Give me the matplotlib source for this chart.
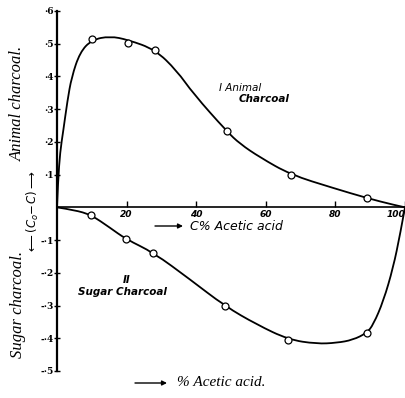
import matplotlib
matplotlib.use("Agg")
import matplotlib.pyplot as plt
from matplotlib.path import Path
from matplotlib.patches import PathPatch

# measured points (open circles)
animal_x = [10, 20.4, 28.2, 48.8, 67.1, 89.2]
animal_y = [0.515, 0.502, 0.482, 0.232, 0.100, 0.028]
sugar_x = [9.8, 19.8, 27.7, 48.3, 66.5, 89.0]
sugar_y = [-0.023, -0.097, -0.138, -0.302, -0.404, -0.384]

# hand-drawn curves, points
animal_curve_x = [0, 0.3, 0.9, 1.8, 3.0, 4.2, 6.6, 10, 15.2, 20.4, 28.2, 34.4,
                  39.2, 48.8, 52.6, 58.3, 67.1, 79.4, 89.2, 96.6, 100]
animal_curve_y = [0, 0.08, 0.17, 0.234, 0.326, 0.398, 0.474, 0.512, 0.523, 0.512,
                  0.482, 0.418, 0.347, 0.232, 0.194, 0.153, 0.100, 0.059, 0.028,
                  0.008, 0]
sugar_curve_x = [0, 5, 9.8, 15.2, 19.8, 27.7, 38.2, 48.3, 57.4, 66.5, 74.6, 80.4,
                 85, 89, 90.9, 93.8, 96.6, 98.6, 100]
sugar_curve_y = [0, -0.008, -0.023, -0.062, -0.097, -0.138, -0.22, -0.302, -0.358,
                 -0.404, -0.417, -0.414, -0.405, -0.384, -0.358, -0.286, -0.184,
                 -0.082, 0]

y_ticks = [0.6, 0.5, 0.4, 0.3, 0.2, 0.1, -0.1, -0.2, -0.3, -0.4, -0.5]
y_tick_labels = ['·6', '·5', '·4', '·3', '·2', '·1', '-·1', '-·2', '-·3', '-·4', '-·5']
x_ticks = [20, 40, 60, 80, 100]
x_tick_labels = ['20', '40', '60', '80', '100']


def smooth_path(xs, ys):
    verts = [(xs[0], ys[0])]
    codes = [Path.MOVETO]
    n = len(xs)
    for i in range(1, n - 1):
        mx = (xs[i] + xs[i + 1]) / 2
        my = (ys[i] + ys[i + 1]) / 2
        if i == n - 2:
            mx, my = xs[i + 1], ys[i + 1]
        verts += [(xs[i], ys[i]), (mx, my)]
        codes += [Path.CURVE3, Path.CURVE3]
    return Path(verts, codes)


def fx(px):
    return px / 406


def fy(py):
    return 1 - py / 398


fig = plt.figure(figsize=(4.06, 3.98), dpi=100)
ax = fig.add_axes([57 / 406, 27 / 398, 348 / 406, 360 / 398])
ax.set_xlim(0, 100)
ax.set_ylim(-0.5, 0.6)

for xs, ys in [(animal_curve_x, animal_curve_y), (sugar_curve_x, sugar_curve_y)]:
    ax.add_patch(PathPatch(smooth_path(xs, ys), fill=False, lw=1.3, ec='black',
                           capstyle='round', joinstyle='round'))

ax.plot(animal_x, animal_y, 'o', ms=5, mfc='white', mec='black', mew=0.9, zorder=5,
        clip_on=False)
ax.plot(sugar_x, sugar_y, 'o', ms=5, mfc='white', mec='black', mew=0.9, zorder=5,
        clip_on=False)

for s in ['top', 'right']:
    ax.spines[s].set_visible(False)
ax.spines['bottom'].set_position(('data', 0))
ax.spines['left'].set_linewidth(1.6)
ax.spines['bottom'].set_linewidth(1.2)

ax.set_yticks(y_ticks)
ax.set_yticklabels(y_tick_labels, fontsize=6.5, fontweight='bold', family='DejaVu Serif')
ax.tick_params(axis='y', direction='inout', length=4, width=1, pad=0.5)
ax.set_xticks(x_ticks)
xl = ax.set_xticklabels(x_tick_labels, fontsize=6.5, fontweight='bold', style='italic',
                        family='DejaVu Sans')
xl[-1].set_ha('right')
ax.tick_params(axis='x', direction='in', length=4, width=1, pad=2)

# side labels
fig.text(fx(18), fy(103), 'Animal charcoal.', rotation=90, ha='center',
         va='center', fontsize=12, style='italic', family='Liberation Serif')
fig.text(fx(18), fy(305), 'Sugar charcoal.', rotation=90, ha='center',
         va='center', fontsize=12, style='italic', family='Liberation Serif')
fig.text(fx(33), fy(212), r'$\longleftarrow(C_o\!-\!C)\longrightarrow$',
         rotation=90, ha='center', va='center', fontsize=8.5)

# in-plot annotations
fig.text(fx(219), fy(88), 'I Animal', ha='left', va='center', fontsize=7.5,
         style='italic', family='DejaVu Sans')
fig.text(fx(239), fy(99), 'Charcoal', ha='left', va='center', fontsize=7.5,
         style='italic', family='DejaVu Sans', fontweight='bold')
fig.text(fx(127), fy(280), 'II', ha='center', va='center', fontsize=7.5,
         style='italic', family='DejaVu Sans', fontweight='bold')
fig.text(fx(78), fy(292), 'Sugar Charcoal', ha='left', va='center',
         fontsize=7.5, style='italic', family='DejaVu Sans', fontweight='bold')

arrow_props = dict(arrowstyle='-|>', lw=1.0, color='black', mutation_scale=7,
                   shrinkA=0, shrinkB=0)
fig.add_artist(matplotlib.patches.FancyArrowPatch(
    (fx(155), fy(226)), (fx(183), fy(226)), transform=fig.transFigure, **arrow_props))
fig.text(fx(190), fy(226), 'C% Acetic acid', ha='left', va='center',
         fontsize=9, style='italic', family='DejaVu Sans')

fig.add_artist(matplotlib.patches.FancyArrowPatch(
    (fx(135), fy(383)), (fx(167), fy(383)), transform=fig.transFigure, **arrow_props))
fig.text(fx(177), fy(383), '% Acetic acid.', ha='left', va='center',
         fontsize=11, style='italic', family='Liberation Serif')

fig.savefig('out.png', dpi=100, facecolor='white')
